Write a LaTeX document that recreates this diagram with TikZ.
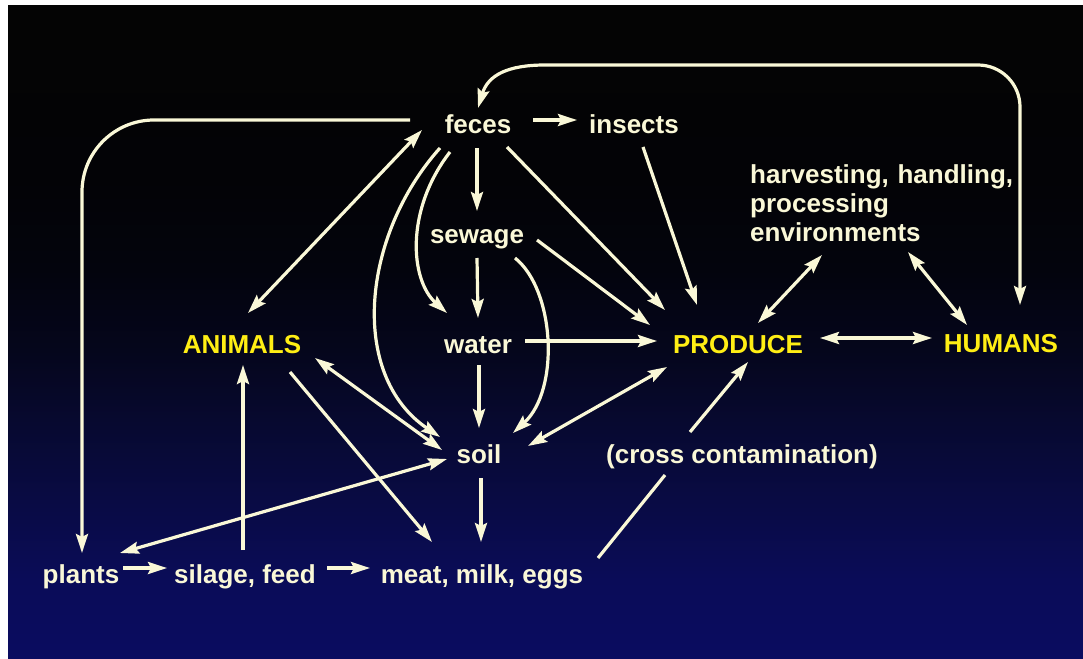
\documentclass[tikz,border=0pt]{standalone}
\usepackage{fontspec}
\setmainfont{Liberation Sans}
\usetikzlibrary{arrows.meta,calc}
\definecolor{cream}{RGB}{250,248,215}
\definecolor{yel}{RGB}{255,238,20}
\definecolor{bgA}{RGB}{10,12,96}
\definecolor{bgB}{RGB}{10,12,88}
\definecolor{bgC}{RGB}{9,11,68}
\definecolor{bgD}{RGB}{7,9,48}
\definecolor{bgE}{RGB}{5,6,28}
\definecolor{bgF}{RGB}{3,4,13}
\definecolor{bgG}{RGB}{3,3,6}
\definecolor{bgH}{RGB}{4,4,4}
\pgfdeclareverticalshading{slidebg}{100bp}{color(0bp)=(bgA); color(25bp)=(bgA); color(31bp)=(bgB); color(37bp)=(bgC); color(43bp)=(bgD); color(48.6bp)=(bgE); color(54.8bp)=(bgF); color(61.7bp)=(bgG); color(75bp)=(bgH); color(100bp)=(bgH)}
\newcommand{\labfont}{\fontsize{26}{29}\selectfont\bfseries}
\tikzset{
  lbl/.style={text=cream, font=\labfont, inner sep=0pt, anchor=base},
  keylbl/.style={lbl, text=yel},
  conn/.style={draw=cream, line width=3.2pt},
  tipA/.tip={Stealth[length=19pt,width=12pt,inset=3pt]},
  arr/.style={conn, -tipA},
  darr/.style={conn, tipA-tipA}
}
\begin{document}
\begin{tikzpicture}[x=1pt,y=-1pt]
\useasboundingbox (0,0) rectangle (1083,658);
\fill[white] (0,0) rectangle (1083,658);
\shade[shading=slidebg] (8,6) rectangle (1083,658);

% nodes
\node[lbl] (feces) at (478,133) {feces};
\node[lbl] (insects) at (634,133) {insects};
\node[lbl, anchor=base west, text width=320pt, align=left] (harv) at (750,183) {harvesting, handling,\\processing\\environments};
\node[lbl] (sewage) at (477,243) {sewage};
\node[lbl] (water) at (478,353) {water};
\node[keylbl] (animals) at (242,353) {ANIMALS};
\node[keylbl] (produce) at (738,353) {PRODUCE};
\node[keylbl] (humans) at (1001,352) {HUMANS};
\node[lbl] (soil) at (479,463) {soil};
\node[lbl] (cross) at (742,463) {(cross contamination)};
\node[lbl] (plants) at (81,583) {plants};
\node[lbl] (silage) at (245,583) {silage, feed};
\node[lbl] (meat) at (482,583) {meat, milk, eggs};

% connectors
\draw[arr] ($(feces.base)+(55,-13)$) -- ($(insects.base)+(-57,-13)$);
\draw[darr] ($(feces.base)+(0,-25)$) .. controls ($(feces.base)+(10,-58)$) and ($(feces.base)+(30,-68)$) .. ($(feces.base)+(67,-68)$)
   [rounded corners=42pt] -- ($(humans.base)+(19,-287)$) -- ($(humans.base)+(19,-47)$);
\draw[arr, rounded corners=72pt] ($(feces.base)+(-68,-13)$) -- ($(plants.base)+(1,-463)$) -- ($(plants.base)+(1,-30)$);
\draw[darr] ($(animals.base)+(6,-40)$) -- ($(feces.base)+(-56,-3)$);
\draw[arr] ($(feces.base)+(-1,15)$) -- ($(sewage.base)+(0,-32)$);
\draw[arr] ($(sewage.base)+(0,15)$) -- ($(water.base)+(0,-35)$);
\draw[arr] ($(water.base)+(1,12)$) -- ($(soil.base)+(0,-35)$);
\draw[arr] ($(soil.base)+(2,15)$) -- ($(meat.base)+(-1,-41)$);
\draw[arr] ($(feces.base)+(29,14)$) -- ($(produce.base)+(-73,-43)$);
\draw[arr] ($(insects.base)+(9,14)$) -- ($(produce.base)+(-41,-48)$);
\draw[arr] ($(sewage.base)+(60,-3)$) -- ($(produce.base)+(-88,-28)$);
\draw[arr] ($(water.base)+(47,-12)$) -- ($(produce.base)+(-81,-12)$);
\draw[darr] ($(soil.base)+(49,-17)$) -- ($(produce.base)+(-71,14)$);
\draw[conn] ($(meat.base)+(116,-25)$) -- ($(cross.base)+(-77,12)$);
\draw[arr] ($(cross.base)+(-52,-31)$) -- ($(produce.base)+(10,9)$);
\draw[darr] ($(produce.base)+(82,-15)$) -- ($(humans.base)+(-69,-14)$);
\draw[darr] ($(produce.base)+(20,-30)$) -- ($(harv.base west)+(72,72)$);
\draw[darr] ($(harv.base west)+(158,69)$) -- ($(humans.base)+(-34,-27)$);
\draw[arr] ($(feces.base)+(-28,19)$) .. controls ($(feces.base)+(-73,77)$) and ($(feces.base)+(-68,147)$) .. ($(water.base)+(-31,-40)$);
\draw[arr] ($(feces.base)+(-38,15)$) .. controls ($(feces.base)+(-116,102)$) and ($(soil.base)+(-131,-88)$) .. ($(soil.base)+(-39,-26)$);
\draw[arr] ($(sewage.base)+(38,15)$) .. controls ($(sewage.base)+(78,47)$) and ($(soil.base)+(81,-73)$) .. ($(soil.base)+(34,-30)$);
\draw[darr] ($(animals.base)+(73,5)$) -- ($(soil.base)+(-37,-13)$);
\draw[arr] ($(animals.base)+(48,19)$) -- ($(meat.base)+(-50,-41)$);
\draw[arr] ($(silage.base)+(-2,-33)$) -- ($(animals.base)+(1,12)$);
\draw[darr] ($(soil.base)+(-32,-4)$) -- ($(plants.base)+(39,-30)$);
\draw[arr] ($(plants.base)+(42,-15)$) -- ($(silage.base)+(-78,-15)$);
\draw[arr] ($(silage.base)+(82,-15)$) -- ($(meat.base)+(-112,-15)$);
\end{tikzpicture}
\end{document}
